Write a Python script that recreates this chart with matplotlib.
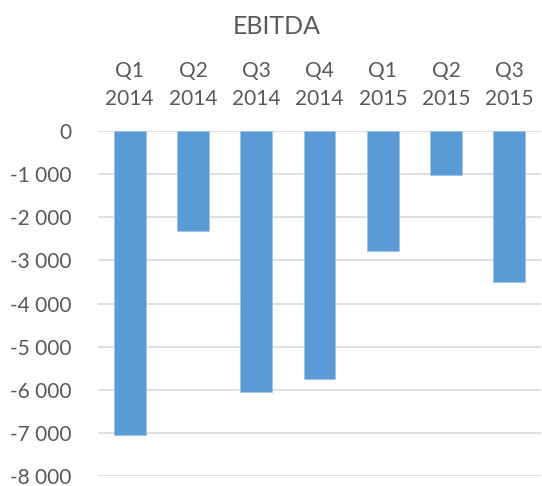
import matplotlib
matplotlib.use("Agg")
import matplotlib.pyplot as plt
from matplotlib.ticker import FuncFormatter, MultipleLocator

categories = ["Q1\n2014", "Q2\n2014", "Q3\n2014", "Q4\n2014", "Q1\n2015", "Q2\n2015", "Q3\n2015"]
ebitda = [-7060, -2330, -6060, -5760, -2780, -1030, -3490]
title = "EBITDA"

plt.rcParams['font.family'] = ['Lato', 'DejaVu Sans']
text_color = "#595959"
bar_color = "#5B9BD5"

fig = plt.figure(figsize=(5.42, 4.86), dpi=100)
# axes: zero line at y=131 px, -8000 line at y=476 px
ax = fig.add_axes([0.181, 1 - 476 / 486, 0.817, (476 - 131) / 486])

x = range(len(categories))
ax.bar(x, ebitda, width=0.5, color=bar_color, edgecolor="#9DC3E6", linewidth=0.6, zorder=3)

ax.set_ylim(-8000, 0)
ax.set_xlim(-0.5, len(categories) - 0.5)
ax.yaxis.set_major_locator(MultipleLocator(1000))
ax.yaxis.set_major_formatter(FuncFormatter(lambda v, p: f"{int(round(v)):,}".replace(",", " ")))
ax.grid(axis="y", color="#D9D9D9", linewidth=1.2, zorder=0)

ax.xaxis.tick_top()
ax.set_xticks(list(x))
ax.set_xticklabels(categories, linespacing=1.5)
ax.tick_params(axis="x", length=0, pad=16, labelsize=15, labelcolor=text_color)
ax.tick_params(axis="y", length=0, pad=19.5, labelsize=15, labelcolor=text_color)
for s in ax.spines.values():
    s.set_visible(False)

fig.text(0.51, 1 - 26 / 486, title, ha="center", va="center", fontsize=18, color=text_color)

fig.savefig("out.png", dpi=100)
